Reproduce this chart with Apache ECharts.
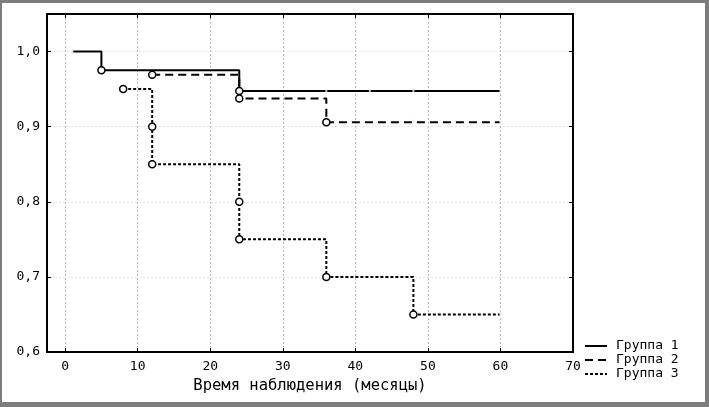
<!DOCTYPE html>
<html>
<head>
<meta charset="utf-8">
<script src="https://cdn.jsdelivr.net/npm/echarts@6/dist/echarts.min.js"></script>
<style>
html, body { margin: 0; padding: 0; background: #fff; }
#chart { position: absolute; left: 0; top: 0; width: 709px; height: 407px; }
#frame {
	position: absolute; left: 0; top: 0; width: 709px; height: 407px;
	box-sizing: border-box; pointer-events: none;
	border-style: solid; border-color: #7d7d7d;
	border-width: 3px 4px 5px 2px;
}
</style>
</head>
<body>
<div id="chart"></div>
<div id="frame"></div>
<script type="text/javascript">
'use strict';
var FONT = '"DejaVu Sans Mono", monospace';

// оси
var xTicks = [0, 10, 20, 30, 40, 50, 60, 70];
var yTicks = [0.6, 0.7, 0.8, 0.9, 1.0];

// Группа 1
var g1Time = [1, 5, 24, 60];
var g1Surv = [1.0, 0.975, 0.9476, 0.9476];
var g1Event = [0, 1, 1, 0];
var g1Cens = [1, 36, 42, 48, 60];

// Группа 2
var g2Time = [12, 24, 36, 60];
var g2Surv = [0.969, 0.9375, 0.906, 0.906];
var g2Event = [1, 1, 1, 0];
var g2Cens = [48, 60];

// Группа 3
var g3Time = [8, 12, 12, 24, 24, 36, 48, 60];
var g3Surv = [0.95, 0.9, 0.85, 0.8, 0.75, 0.7, 0.65, 0.65];
var g3Event = [1, 1, 1, 1, 1, 1, 1, 0];
var g3Cens = [60];

function stepData(t, s, ev) {
	return t.map(function (x, i) {
		return { value: [x, s[i]], symbol: ev[i] ? 'circle' : 'none' };
	});
}
// значение кривой в момент x
function survAt(t, s, x) {
	var y = s[0];
	for (var i = 0; i < t.length; i++) { if (t[i] <= x) y = s[i]; }
	return y;
}

function lineSeries(name, t, s, ev, type) {
	return {
		name: name,
		type: 'line',
		step: 'end',
		data: stepData(t, s, ev),
		color: '#000',
		symbolSize: 7,
		z: 2,
		itemStyle: { color: '#fff', borderColor: '#000', borderWidth: 1.5 },
		lineStyle: { color: '#000', width: 2, type: type },
		emphasis: { disabled: true },
		animation: false
	};
}
// цензурированные наблюдения - маленькие разрывы на линии
function censSeries(t, s, c) {
	return {
		type: 'scatter',
		data: c.map(function (x) { return [x, survAt(t, s, x)]; }),
		symbol: 'rect',
		symbolSize: [2, 6],
		itemStyle: { color: '#f2f2f2' },
		z: 3,
		silent: true,
		animation: false
	};
}

var myChart = echarts.init(document.getElementById('chart'), null, { renderer: 'canvas' });
var xBase = {
	type: 'value', min: -2.5, max: 70,
	axisLine: { show: true, onZero: false, lineStyle: { color: '#000', width: 2 } },
	axisTick: { show: true, inside: true, length: 4, customValues: xTicks, lineStyle: { color: '#000' } }
};
var yBase = {
	type: 'value', min: 0.6, max: 1.05,
	axisLine: { show: true, onZero: false, lineStyle: { color: '#000', width: 2 } },
	axisTick: { show: true, inside: true, length: 4, customValues: yTicks, lineStyle: { color: '#000' } }
};
var option = {
	backgroundColor: '#fff',
	animation: false,
	grid: { left: 47, top: 14, right: 136, bottom: 55, show: true, borderColor: '#000', borderWidth: 2, backgroundColor: 'transparent' },
	legend: {
		orient: 'vertical', left: 584, top: 339, padding: 0,
		itemWidth: 22, itemHeight: 8, itemGap: 0,
		data: ['Группа 1', 'Группа 2', 'Группа 3'],
		itemStyle: { opacity: 0 },
		textStyle: { fontFamily: FONT, fontSize: 13, color: '#000', lineHeight: 14, padding: [0, 0, 0, 4] },
		selectedMode: false
	},
	xAxis: [
		Object.assign({}, xBase, {
			position: 'bottom',
			name: 'Время наблюдения (месяцы)', nameLocation: 'middle', nameGap: 26,
			nameTextStyle: { fontFamily: FONT, fontSize: 15.5, color: '#000' },
			axisLabel: { customValues: xTicks, margin: 8, fontFamily: FONT, fontSize: 13, color: '#000' },
			splitLine: { show: true, lineStyle: { color: '#bdbdbd', type: [2, 2], width: 1 } }
		}),
		Object.assign({}, xBase, {
			position: 'top',
			axisLabel: { show: false },
			splitLine: { show: false }
		})
	],
	yAxis: [
		Object.assign({}, yBase, {
			position: 'left',
			axisLabel: {
				customValues: yTicks, margin: 7, fontFamily: FONT, fontSize: 13, color: '#000',
				formatter: function (v) { return v.toFixed(1).replace('.', ','); }
			},
			splitLine: { show: true, lineStyle: { color: '#e4e4e4', type: [2, 2], width: 1 } }
		}),
		Object.assign({}, yBase, {
			position: 'right',
			axisLabel: { show: false },
			splitLine: { show: false }
		})
	],
	series: [
		lineSeries('Группа 1', g1Time, g1Surv, g1Event, 'solid'),
		lineSeries('Группа 2', g2Time, g2Surv, g2Event, [8, 5]),
		lineSeries('Группа 3', g3Time, g3Surv, g3Event, [3, 2]),
		censSeries(g1Time, g1Surv, g1Cens),
		censSeries(g2Time, g2Surv, g2Cens),
		censSeries(g3Time, g3Surv, g3Cens)
	]
};
myChart.setOption(option);
window.onresize = myChart.resize;
</script>
</body>
</html>
